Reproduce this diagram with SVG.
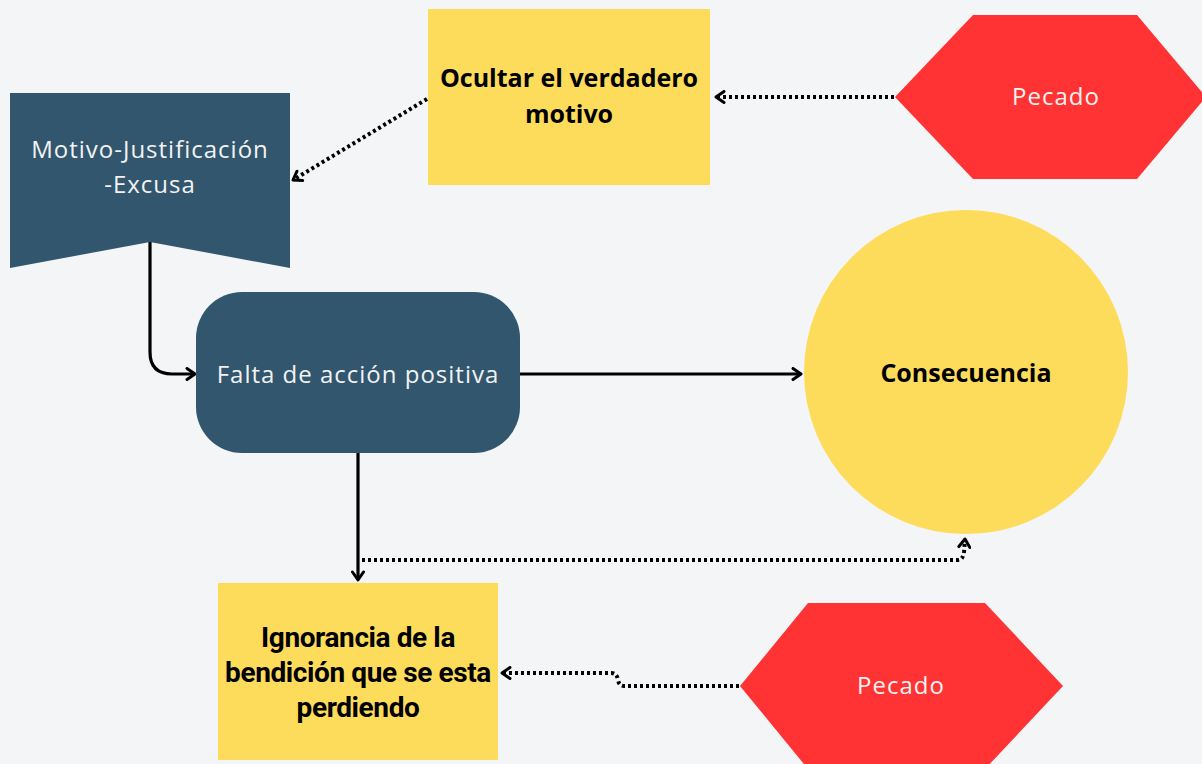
<svg xmlns="http://www.w3.org/2000/svg" width="1202" height="764" viewBox="0 0 1202 764">
<style>
.bg{fill:#F3F5F7}
.dark{fill:#31566E}
.yel{fill:#FDDC5C}
.red{fill:#FF3333}
.lt{font-family:"Open Sans","Noto Sans",sans-serif;font-size:24px;letter-spacing:1px;fill:#F2F2F2;text-anchor:middle}
.bd{font-family:"Open Sans","Noto Sans",sans-serif;font-weight:bold;font-size:25px;fill:#000;text-anchor:middle}
.cd{font-family:"Roboto","Liberation Sans",sans-serif;font-weight:bold;font-size:28px;fill:#000;text-anchor:middle;letter-spacing:-0.4px}
.solid{fill:none;stroke:#000;stroke-width:3.2}
.dot{fill:none;stroke:#000;stroke-width:4;stroke-dasharray:3 3}
</style>
<defs>
<marker id="ah" markerUnits="userSpaceOnUse" viewBox="0 0 12 14" refX="10" refY="7" markerWidth="12" markerHeight="14" orient="auto">
<path d="M2,1.5 L10,7 L2,12.5" fill="none" stroke="#000" stroke-width="3" stroke-linecap="round" stroke-linejoin="round"/>
</marker>
</defs>
<rect class="bg" x="0" y="0" width="1202" height="764"/>

<g id="connectors">
<path class="dot" d="M894,97 L716,97" marker-end="url(#ah)"/>
<path class="dot" d="M427,99 L293,180" marker-end="url(#ah)"/>
<path class="solid" d="M150,242 L150,352 Q150,374 172,374 L195,374" marker-end="url(#ah)"/>
<path class="solid" d="M520,374 L801,374" marker-end="url(#ah)"/>
<path class="solid" d="M358,453 L358,580" marker-end="url(#ah)"/>
<path class="dot" d="M362,560 L958,560 Q963,560 964,552 L965,539" marker-end="url(#ah)"/>
<path class="dot" d="M739,686 L624,686 Q619,686 618,680 Q617,673 611,673 L502,673" marker-end="url(#ah)"/>
</g>

<g id="node-ocultar">
<rect class="yel" x="428" y="9" width="282" height="176"/>
<text class="bd" x="569" y="87">Ocultar el verdadero</text>
<text class="bd" x="569" y="123">motivo</text>
</g>

<g id="node-pecado-top">
<polygon class="red" points="895,97 973,15 1137,15 1206,97 1137,179 973,179"/>
<text class="lt" x="1056" y="105">Pecado</text>
</g>

<g id="node-motivo">
<polygon class="dark" points="10,93 290,93 290,268 150,242 10,268"/>
<text class="lt" x="150" y="158">Motivo-Justificación</text>
<text class="lt" x="150" y="193">-Excusa</text>
</g>

<g id="node-falta">
<rect class="dark" x="196" y="292" width="324" height="161" rx="46" ry="46"/>
<text class="lt" x="358" y="383">Falta de acción positiva</text>
</g>

<g id="node-consecuencia">
<circle class="yel" cx="966" cy="372" r="162"/>
<text class="bd" x="966" y="382">Consecuencia</text>
</g>

<g id="node-ignorancia">
<rect class="yel" x="218" y="583" width="280" height="177"/>
<text class="cd" x="358" y="647">Ignorancia de la</text>
<text class="cd" x="358" y="682">bendición que se esta</text>
<text class="cd" x="358" y="717">perdiendo</text>
</g>

<g id="node-pecado-bottom">
<polygon class="red" points="740,686 808,603 985,603 1063,686 985,769 808,769"/>
<text class="lt" x="901" y="694">Pecado</text>
</g>
</svg>
